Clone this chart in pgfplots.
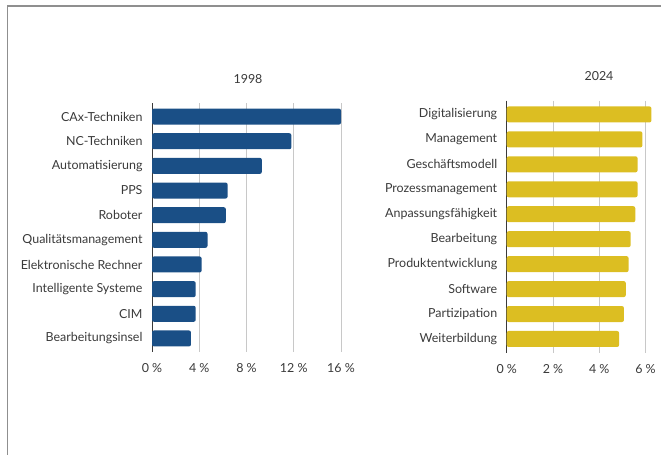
\documentclass[border=0pt]{standalone}
\usepackage{pgfplots}
\pgfplotsset{compat=1.18}
\usepackage{fontspec}
\setmainfont{Lato}
\definecolor{barblue}{HTML}{1A4F86}
\definecolor{baryellow}{HTML}{DCBE22}
\definecolor{txt}{HTML}{3A3A3A}
\definecolor{gridc}{HTML}{C8C8C8}
\definecolor{framec}{HTML}{8F8F8F}
\pgfplotsset{
  mystyle/.style={
    xbar, scale only axis, y dir=reverse,
    axis line style={draw=none},
    major tick length=0pt,
    xmajorgrids, grid style={gridc, line width=0.8bp},
    extra x ticks={0}, extra x tick labels={},
    extra x tick style={grid style={txt, line width=1bp}},
    ytick={0,...,9},
    ymin=-0.55, ymax=9.55,
    bar width=16bp,
    ticklabel style={font=\fontsize{12.5}{14}\selectfont, text=txt},
    yticklabel style={xshift=-6bp},
    xticklabel style={yshift=-8bp},
    /pgf/number format/assume math mode=true,
  }
}
\begin{document}
\begin{tikzpicture}
\clip (0,0) rectangle (661bp,-455bp);
\draw[framec, line width=1.6bp] (7.5bp,-470bp) -- (7.5bp,-6bp) -- (680bp,-6bp);
\node[text=txt, font=\fontsize{12.5}{14}\selectfont] at (248bp,-79bp) {1998};
\node[text=txt, font=\fontsize{12.5}{14}\selectfont] at (599bp,-76bp) {2024};
\begin{axis}[mystyle, at={(152bp,-103bp)}, anchor=north west,
  width=189bp, height=249bp, xmin=0, xmax=16,
  xtick={0,4,8,12,16}, xticklabels={0 \%,4 \%,8 \%,12 \%,16 \%},
  yticklabels={CAx-Techniken,NC-Techniken,Automatisierung,PPS,Roboter,Qualitätsmanagement,Elektronische Rechner,Intelligente Systeme,CIM,Bearbeitungsinsel}]
\addplot[fill=barblue, draw=none, rounded corners=2bp] coordinates {
(16.0,0) (11.8,1) (9.3,2) (6.4,3) (6.25,4) (4.7,5) (4.2,6) (3.7,7) (3.7,8) (3.3,9)};
\end{axis}
\begin{axis}[mystyle, at={(506.7bp,-100.7bp)}, anchor=north west,
  width=185bp, height=252bp, xmin=0, xmax=8,
  xtick={0,2,4,6}, xticklabels={0 \%,2 \%,4 \%,6 \%},
  yticklabels={Digitalisierung,Management,Geschäftsmodell,Prozessmanagement,Anpassungsfähigkeit,Bearbeitung,Produktentwicklung,Software,Partizipation,Weiterbildung}]
\addplot[fill=baryellow, draw=none, rounded corners=2bp] coordinates {
(6.26,0) (5.87,1) (5.66,2) (5.66,3) (5.56,4) (5.36,5) (5.27,6) (5.15,7) (5.07,8) (4.86,9)};
\end{axis}
\end{tikzpicture}
\end{document}
